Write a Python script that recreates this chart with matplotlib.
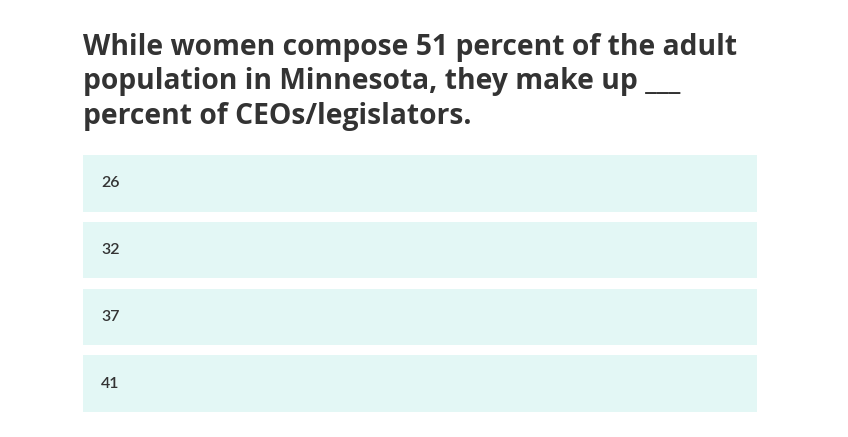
import matplotlib
matplotlib.use("Agg")
import matplotlib.pyplot as plt

# Quiz question and the answer choices
question_lines = [
    "While women compose 51 percent of the adult",
    "population in Minnesota, they make up ___",
    "percent of CEOs/legislators.",
]
choices = ["26", "32", "37", "41"]

text_color = "#333333"
box_color = "#e3f7f5"

fig = plt.figure(figsize=(8.48, 4.37), dpi=100)
fig.patch.set_facecolor("white")

# title, one line at a time so spacing matches
for i, line in enumerate(question_lines):
    fig.text(83 / 848, 1 - (55 + i * 34.5) / 437, line, fontsize=20.3,
             fontweight="bold", family="Open Sans", color=text_color,
             va="baseline", ha="left")

ax = fig.add_axes([83 / 848, 25 / 437, 674 / 848, 257 / 437])
ypos = list(range(len(choices)))
ax.barh(ypos, [1] * len(choices), height=0.85, color=box_color)
for y, label in zip(ypos, choices):
    ax.text(0.027, y, label, fontsize=11.5, color=text_color, family="Lato",
            fontweight="semibold", va="center", ha="left")
ax.set_xlim(0, 1)
ax.set_ylim(len(choices) - 0.575, -0.425)
ax.axis("off")

fig.savefig("out.png", dpi=100, facecolor="white")
